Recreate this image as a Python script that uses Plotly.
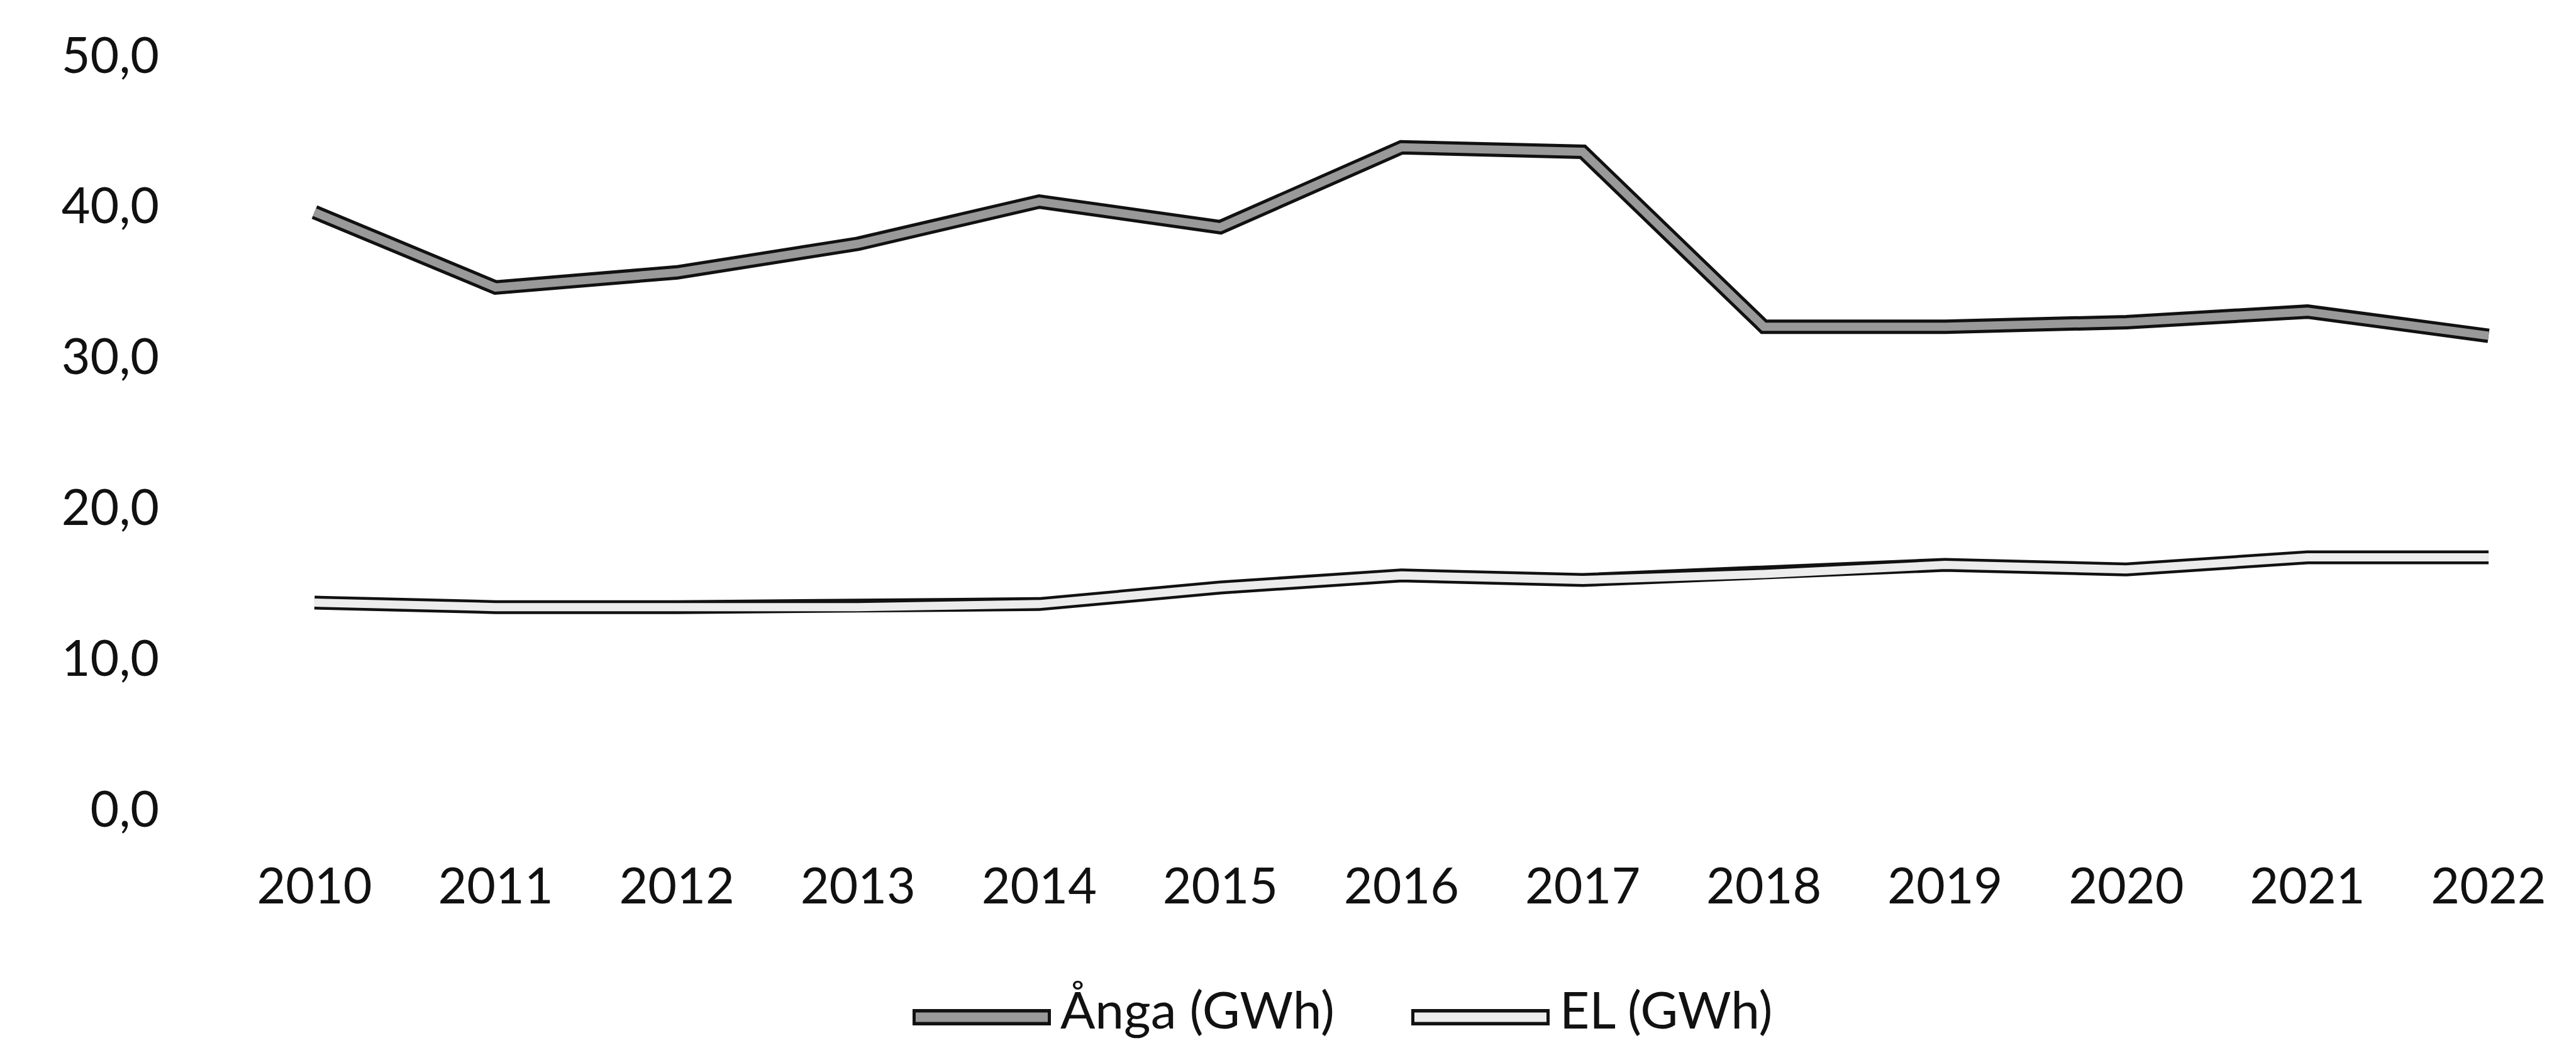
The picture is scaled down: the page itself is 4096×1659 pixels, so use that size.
import plotly.graph_objects as go

years = ["2010", "2011", "2012", "2013", "2014", "2015", "2016",
         "2017", "2018", "2019", "2020", "2021", "2022"]
anga = [39.6, 34.6, 35.6, 37.5, 40.3, 38.6, 43.9, 43.6, 32.0, 32.0, 32.3, 33.0, 31.4]
el = [13.7, 13.4, 13.4, 13.4, 13.6, 14.7, 15.5, 15.2, 15.6, 16.2, 15.9, 16.7, 16.7]
y_ticks = [0, 10, 20, 30, 40, 50]
series_names = ["Ånga (GWh)", "EL (GWh)"]

W, H = 4096, 1659
ML, MR, MT, MB = 348, 3, 80, 380
FONT = "Lato, 'Open Sans', sans-serif"
FS = 79
FS_LEG = 82

fig = go.Figure()

styles = [
    (anga, 23, "#111111", 13, "#999999"),
    (el, 22, "#111111", 13, "#ececec"),
]
for vals, ow, oc, iw, ic in styles:
    fig.add_trace(go.Scatter(x=years, y=vals, mode="lines",
                             line=dict(color=oc, width=ow),
                             showlegend=False, hoverinfo="skip"))
    fig.add_trace(go.Scatter(x=years, y=vals, mode="lines",
                             line=dict(color=ic, width=iw),
                             showlegend=False, hoverinfo="skip"))

# custom legend (outline-style line symbols)
pw = W - ML - MR
ph = H - MT - MB
def px2x(X):
    return (X - ML) / pw
def py2y(Y):
    return (H - MB - Y) / ph

leg_sym_y = py2y(1610)
leg_txt_y = py2y(1596)
legend_items = [
    (series_names[0], 1443, 1663, 1676, "#999999"),
    (series_names[1], 2236, 2456, 2470, "#ececec"),
]
for name, x0, x1, xt, inner in legend_items:
    fig.add_shape(type="line", xref="paper", yref="paper",
                  x0=px2x(x0), x1=px2x(x1), y0=leg_sym_y, y1=leg_sym_y,
                  line=dict(color="#111111", width=26))
    fig.add_shape(type="line", xref="paper", yref="paper",
                  x0=px2x(x0 + 5), x1=px2x(x1 - 5), y0=leg_sym_y, y1=leg_sym_y,
                  line=dict(color=inner, width=15))
    fig.add_annotation(xref="paper", yref="paper", x=px2x(xt), y=leg_txt_y,
                       text=name, showarrow=False, xanchor="left", yanchor="middle",
                       font=dict(family=FONT, size=FS_LEG, color="#111111"))

fig.update_layout(
    width=W, height=H,
    margin=dict(l=ML, r=MR, t=MT, b=MB),
    paper_bgcolor="white", plot_bgcolor="white",
    separators=", ",
    showlegend=False,
    font=dict(family=FONT, size=FS, color="#111111"),
)
fig.update_xaxes(type="category", range=[-0.5, 12.5], showgrid=False,
                 zeroline=False, showline=False, ticks="outside",
                 ticklen=54, tickcolor="rgba(0,0,0,0)",
                 tickfont=dict(family=FONT, size=FS, color="#111111"))
fig.update_yaxes(range=[0, 50], tickvals=y_ticks, tickformat=".1f",
                 showgrid=False, zeroline=False, showline=False,
                 ticks="outside", ticklen=86, tickcolor="rgba(0,0,0,0)",
                 tickfont=dict(family=FONT, size=FS, color="#111111"))

fig.write_html("out.html")
